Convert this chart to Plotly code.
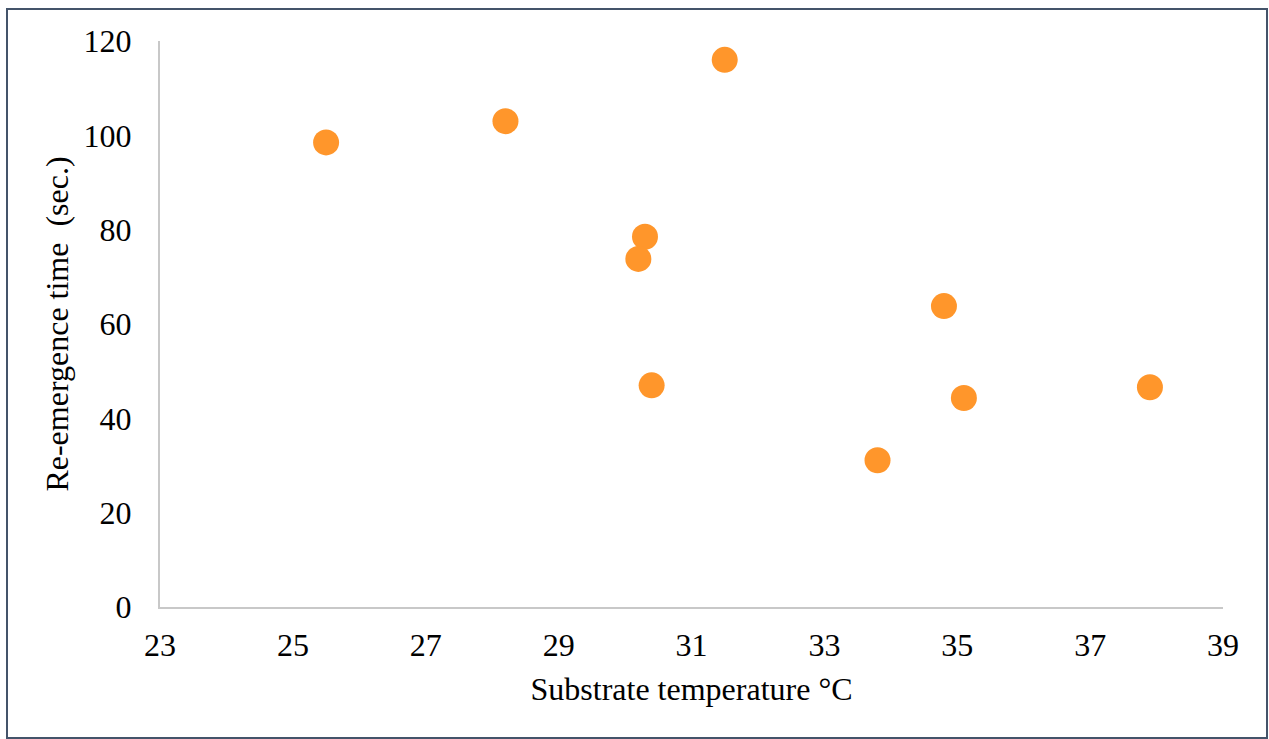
import plotly.graph_objects as go

temperature = [25.5, 28.2, 31.5, 30.3, 30.2, 30.4, 34.8, 33.8, 35.1, 37.9]
reemergence = [98.5, 103.0, 116.0, 78.5, 73.8, 47.0, 63.8, 31.1, 44.3, 46.6]
x_ticks = [23, 25, 27, 29, 31, 33, 35, 37, 39]
y_ticks = [0, 20, 40, 60, 80, 100, 120]

W, H = 1269, 739
L, R, T, B = 160, 46, 41, 132
pw, ph = W - L - R, H - T - B

fig = go.Figure()
fig.add_trace(go.Scatter(
    x=temperature, y=reemergence, mode="markers",
    marker=dict(size=26, color="#FF962B", line=dict(width=0)),
    showlegend=False, hoverinfo="x+y",
))

font = dict(family="Liberation Serif, Times New Roman, serif", size=32, color="black")

fig.update_layout(
    width=W, height=H,
    margin=dict(l=L, r=R, t=T, b=B),
    paper_bgcolor="white", plot_bgcolor="white",
    font=font,
    xaxis=dict(
        range=[23, 39], tickvals=x_ticks, ticktext=[str(v) for v in x_ticks],
        showgrid=False, zeroline=False, showline=True, linecolor="#C8C8C8", linewidth=2,
        ticks="", ticklabelstandoff=9, tickfont=font,
        title=dict(text="Substrate temperature \u00b0C", font=font, standoff=15),
    ),
    yaxis=dict(
        range=[0, 120], tickvals=y_ticks, ticktext=[str(v) for v in y_ticks],
        showgrid=False, zeroline=False, showline=True, linecolor="#C8C8C8", linewidth=2,
        ticks="", ticklabelstandoff=20, tickfont=font,
        title=dict(text="Re-emergence time  (sec.)", font=font, standoff=5),
    ),
    shapes=[dict(
        type="rect", xref="paper", yref="paper",
        x0=(7 - L) / pw, x1=(1267 - L) / pw,
        y0=(H - B - 738) / ph, y1=(H - B - 9) / ph,
        line=dict(color="#44546A", width=2), fillcolor="rgba(0,0,0,0)", layer="below",
    )],
)

fig.write_html("out.html")
